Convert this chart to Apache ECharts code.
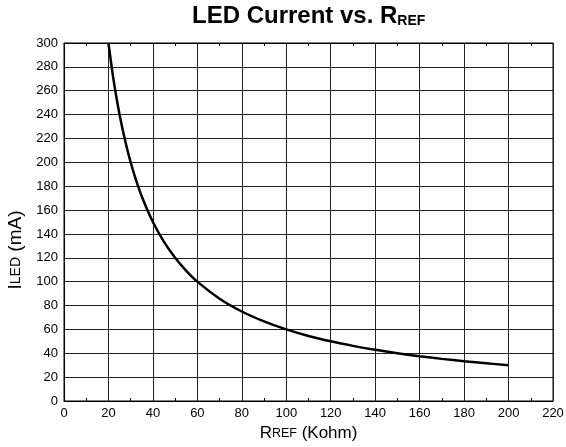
<!DOCTYPE html>
<html>
<head>
<meta charset="utf-8">
<script src="https://cdn.jsdelivr.net/npm/echarts@6/dist/echarts.min.js"></script>
<style>html,body{margin:0;padding:0;background:#fff}#c{width:566px;height:447px}</style>
</head>
<body>
<div id="c"></div>
<script>
var rrefKohm = [20, 22, 24, 26, 28, 30, 33, 36, 40, 45, 50, 55, 60, 70, 80, 90, 100, 110, 120, 130, 140, 150, 160, 170, 180, 190, 200];
var iledMa = [300, 272.7, 250, 230.8, 214.3, 200, 181.8, 166.7, 150, 133.3, 120, 109.1, 100, 85.7, 75, 66.7, 60, 54.5, 50, 46.2, 42.9, 40, 37.5, 35.3, 33.3, 31.6, 30];
var xTicks = [0, 20, 40, 60, 80, 100, 120, 140, 160, 180, 200, 220];
var yTicks = [0, 20, 40, 60, 80, 100, 120, 140, 160, 180, 200, 220, 240, 260, 280, 300];

var chart = echarts.init(document.getElementById('c'), null, {renderer: 'canvas'});
var font = 'Liberation Sans, Arial, sans-serif';
chart.setOption({
  animation: false,
  backgroundColor: '#fff',
  title: {
    text: '{a|LED Current vs. R}{b|REF}',
    left: 192,
    top: 4,
    padding: 0,
    textStyle: {
      rich: {
        a: {fontFamily: font, fontWeight: 'bold', fontSize: 24, color: '#000'},
        b: {fontFamily: font, fontWeight: 'bold', fontSize: 14, color: '#000', verticalAlign: 'bottom'}
      }
    }
  },
  grid: {left: 64, right: 13, top: 43, bottom: 46, show: true, borderColor: '#000', borderWidth: 1, containLabel: false, outerBoundsMode: 'none'},
  xAxis: [{
    type: 'value', min: xTicks[0], max: xTicks[xTicks.length - 1], interval: 20,
    name: '{a|R}{b|REF}{a| (Kohm)}', nameLocation: 'middle', nameGap: 22,
    nameTextStyle: {rich: {
      a: {fontFamily: font, fontSize: 17, color: '#000'},
      b: {fontFamily: font, fontSize: 12.5, color: '#000'}
    }},
    axisLine: {show: true, lineStyle: {color: '#000', width: 1}},
    axisTick: {show: false, inside: true},
    minorTick: {show: true, splitNumber: 2, length: 3, lineStyle: {color: '#000'}},
    axisLabel: {fontFamily: font, fontSize: 13, color: '#000', margin: 6},
    splitLine: {show: true, lineStyle: {color: '#222', width: 1}}
  }, {
    type: 'value', position: 'top', min: xTicks[0], max: xTicks[xTicks.length - 1], interval: 20,
    axisLine: {show: true, lineStyle: {color: '#000', width: 1}},
    axisTick: {show: false, inside: true},
    minorTick: {show: true, splitNumber: 2, length: 3, lineStyle: {color: '#000'}},
    axisLabel: {show: false},
    splitLine: {show: false}
  }],
  yAxis: {
    type: 'value', min: yTicks[0], max: yTicks[yTicks.length - 1], interval: 20,
    name: '{a|I}{b|LED}{a| (mA)}', nameLocation: 'middle', nameGap: 34,
    nameTextStyle: {
      rich: {
        a: {fontFamily: font, fontSize: 19, color: '#000'},
        b: {fontFamily: font, fontSize: 14, color: '#000'}
      },
      padding: [0, 56, 0, 0]
    },
    axisLine: {show: true, lineStyle: {color: '#000', width: 1}},
    axisTick: {show: false},
    axisLabel: {fontFamily: font, fontSize: 13, color: '#000', margin: 6},
    splitLine: {show: true, lineStyle: {color: '#222', width: 1}}
  },
  series: [{
    type: 'line',
    xAxisIndex: 0,
    data: rrefKohm.map(function (r, i) { return [r, iledMa[i]]; }),
    smooth: 0.3,
    showSymbol: false,
    lineStyle: {color: '#000', width: 2.5},
    clip: true
  }]
});
</script>
</body>
</html>
